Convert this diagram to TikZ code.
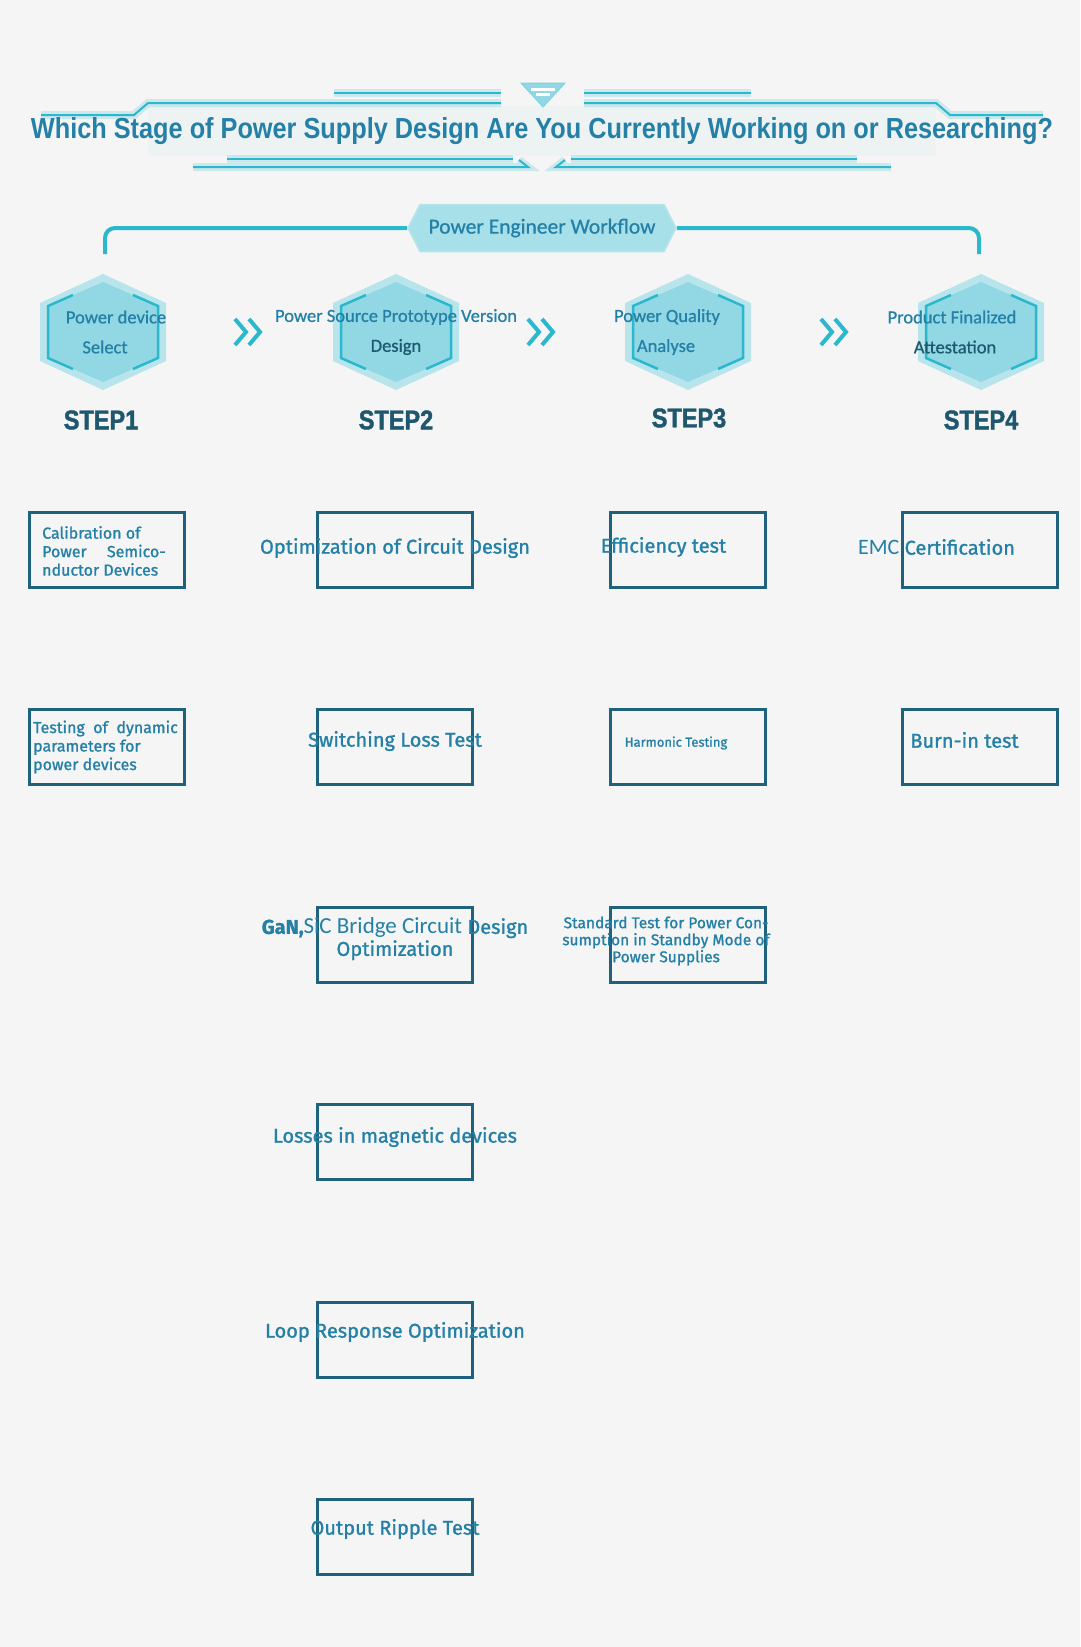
\documentclass[tikz,border=0pt]{standalone}
\usepackage{fontspec}
\setmainfont{Carlito}
\newfontfamily\hexfont[FakeBold=0.8]{Carlito}
\newfontfamily\boxfont[FakeBold=1.2]{Fira Sans}
\newfontfamily\stepfont[FakeStretch=0.87,FakeBold=1.5]{Liberation Sans}
\newfontfamily\titlefont{Liberation Sans}
\usetikzlibrary{shapes.symbols}

\definecolor{bgcol}{RGB}{245,245,245}
\definecolor{txtblue}{RGB}{36,128,166}
\definecolor{boxline}{RGB}{30,98,125}
\definecolor{stepcol}{RGB}{31,88,110}
\definecolor{glowcyan}{RGB}{43,183,204}
\definecolor{hexlight}{RGB}{184,228,236}
\definecolor{hexmid}{RGB}{146,216,228}
\definecolor{darktxt}{RGB}{28,90,112}

\begin{document}
\begin{tikzpicture}[x=1pt,y=-1pt,
    neon/.style={glowcyan,line width=2pt,preaction={draw=glowcyan,line width=8pt,opacity=0.2}},
    stagebox/.style={draw=boxline,line width=3pt,minimum width=155pt,minimum height=75pt},
    boxtext/.style={text=txtblue,font=\boxfont\fontsize{20}{22}\selectfont},
    smalltext/.style={text=txtblue,font=\boxfont\fontsize{16}{18.5}\selectfont,align=left,inner sep=0pt},
    steptext/.style={text=stepcol,font=\stepfont\bfseries\fontsize{27}{29}\selectfont},
    hextext/.style={text=txtblue,font=\hexfont\fontsize{18.5}{20}\selectfont,inner sep=0pt},
    banner/.style={signal,signal to=west and east,signal pointer angle=126,fill=hexmid!80,
        draw=hexlight,line width=1.5pt,minimum width=268pt,minimum height=47pt,
        text=txtblue,font=\hexfont\fontsize{21.5}{23}\selectfont},
    hexcell/.pic={
        \fill[hexlight] (0,-58) -- (63,-29) -- (63,29) -- (0,58) -- (-63,29) -- (-63,-29) -- cycle;
        \fill[hexmid] (0,-50) -- (55,-26) -- (55,26) -- (0,50) -- (-55,26) -- (-55,-26) -- cycle;
        \draw[glowcyan,line width=2.5pt] (-30,-37) -- (-55,-26) -- (-55,26) -- (-30,37);
        \draw[glowcyan,line width=2.5pt] (30,-37) -- (55,-26) -- (55,26) -- (30,37);},
    chevrons/.pic={
        \draw[glowcyan,line width=4pt] (-14,-13) -- (-3,0) -- (-14,13);
        \draw[glowcyan,line width=4pt] (0,-13) -- (11,0) -- (0,13);}]

    \useasboundingbox (0,0) rectangle (1080,1647);
    \fill[bgcol] (0,0) rectangle (1080,1647);

    % title ornament
    \fill[glowcyan,opacity=0.04] (148,106) rectangle (936,156);
    \draw[neon] (334,93) -- (501,93);
    \draw[neon] (584,93) -- (751,93);
    \draw[neon] (41,115) -- (134,115) -- (148,103) -- (501,103);
    \draw[neon] (584,103) -- (936,103) -- (950,115) -- (1043,115);
    \draw[neon] (227,159) -- (513,159);
    \draw[neon] (571,159) -- (857,159);
    \draw[neon] (193,167) -- (528,167) -- (519,160);
    \draw[neon] (891,167) -- (556,167) -- (565,160);
    \filldraw[fill=hexmid,draw=glowcyan!60,line width=1pt] (521,83) -- (565,83) -- (543,107) -- cycle;
    \fill[white] (531,88) rectangle (555,90.5);
    \fill[white] (536,93) rectangle (550,95.5);
    \node[text=txtblue] (title) at (542,131)
        {\resizebox{1022pt}{21pt}{\titlefont\bfseries Which Stage of Power Supply Design Are You Currently Working on or Researching?}};

    % workflow bracket
    \node[banner] (flow) at (542,228) {Power Engineer Workflow};
    \coordinate (s1top) at (105,254);
    \coordinate (s4top) at (979,254);
    \draw[glowcyan,line width=4pt,rounded corners=10pt] (flow.west) -| (s1top);
    \draw[glowcyan,line width=4pt,rounded corners=10pt] (flow.east) -| (s4top);

    % stages
    \pic at (103,332) {hexcell};
    \pic at (396,332) {hexcell};
    \pic at (688,332) {hexcell};
    \pic at (981,332) {hexcell};
    \pic at (249,332) {chevrons};
    \pic at (542,332) {chevrons};
    \pic at (835,332) {chevrons};

    \node[hextext] (h1a) at (116,317) {Power device};
    \node[hextext] (h1b) at (105,347) {Select};
    \node[hextext] (h2a) at (396,317) {Power Source Prototype Version};
    \node[hextext,text=darktxt] (h2b) at (396,347) {Design};
    \node[hextext] (h3a) at (667,317) {Power Quality};
    \node[hextext] (h3b) at (666,347) {Analyse};
    \node[hextext] (h4a) at (952,317) {Product Finalized};
    \node[hextext,text=darktxt] (h4b) at (955,347) {Attestation};

    \node[steptext] (step1) at (101,420) {STEP1};
    \node[steptext] (step2) at (396,420) {STEP2};
    \node[steptext] (step3) at (689,418) {STEP3};
    \node[steptext] (step4) at (981,420) {STEP4};

    % boxes
    \node[stagebox] (b11) at (107,549.5) {};
    \node[stagebox] (b12) at (107,747) {};
    \node[stagebox] (b21) at (394.5,549.5) {};
    \node[stagebox] (b22) at (394.5,747) {};
    \node[stagebox] (b23) at (394.5,944.5) {};
    \node[stagebox] (b24) at (394.5,1142) {};
    \node[stagebox] (b25) at (394.5,1339.5) {};
    \node[stagebox] (b26) at (394.5,1537) {};
    \node[stagebox] (b31) at (687.5,549.5) {};
    \node[stagebox] (b32) at (687.5,747) {};
    \node[stagebox] (b33) at (687.5,944.5) {};
    \node[stagebox] (b41) at (979.5,549.5) {};
    \node[stagebox] (b42) at (979.5,747) {};

    \node[smalltext,anchor=west] (t11) at (42,551) {Calibration of\\Power\quad\ Semico-\\nductor Devices};
    \node[smalltext,anchor=west] (t12) at (33,747) {Testing\ \ of\ \ dynamic\\parameters for\\power devices};
    \node[boxtext] (t21) at (395,548) {Optimization of Circuit Design};
    \node[boxtext] (t22) at (395,741) {Switching Loss Test};
    \node[boxtext,align=center] (t23) at (395,939)
        {{\bfseries GaN,}{\rmfamily\fontsize{23}{24}\selectfont SiC Bridge Circuit }Design\\Optimization};
    \node[boxtext] (t24) at (395,1137) {Losses in magnetic devices};
    \node[boxtext] (t25) at (395,1332) {Loop Response Optimization};
    \node[boxtext] (t26) at (395,1529) {Output Ripple Test};
    \node[boxtext] (t31) at (663.5,547) {Efficiency test};
    \node[boxtext,font=\boxfont\fontsize{13}{15}\selectfont] (t32) at (676,743) {Harmonic Testing};
    \node[smalltext,align=center,font=\boxfont\fontsize{15.5}{17}\selectfont] (t33) at (666,941)
        {Standard Test for Power Con-\\sumption in Standby Mode of\\Power Supplies};
    \node[boxtext] (t41) at (936.5,547) {{\rmfamily\fontsize{22}{24}\selectfont EMC} Certification};
    \node[boxtext] (t42) at (964.5,740) {Burn-in test};
\end{tikzpicture}
\end{document}
